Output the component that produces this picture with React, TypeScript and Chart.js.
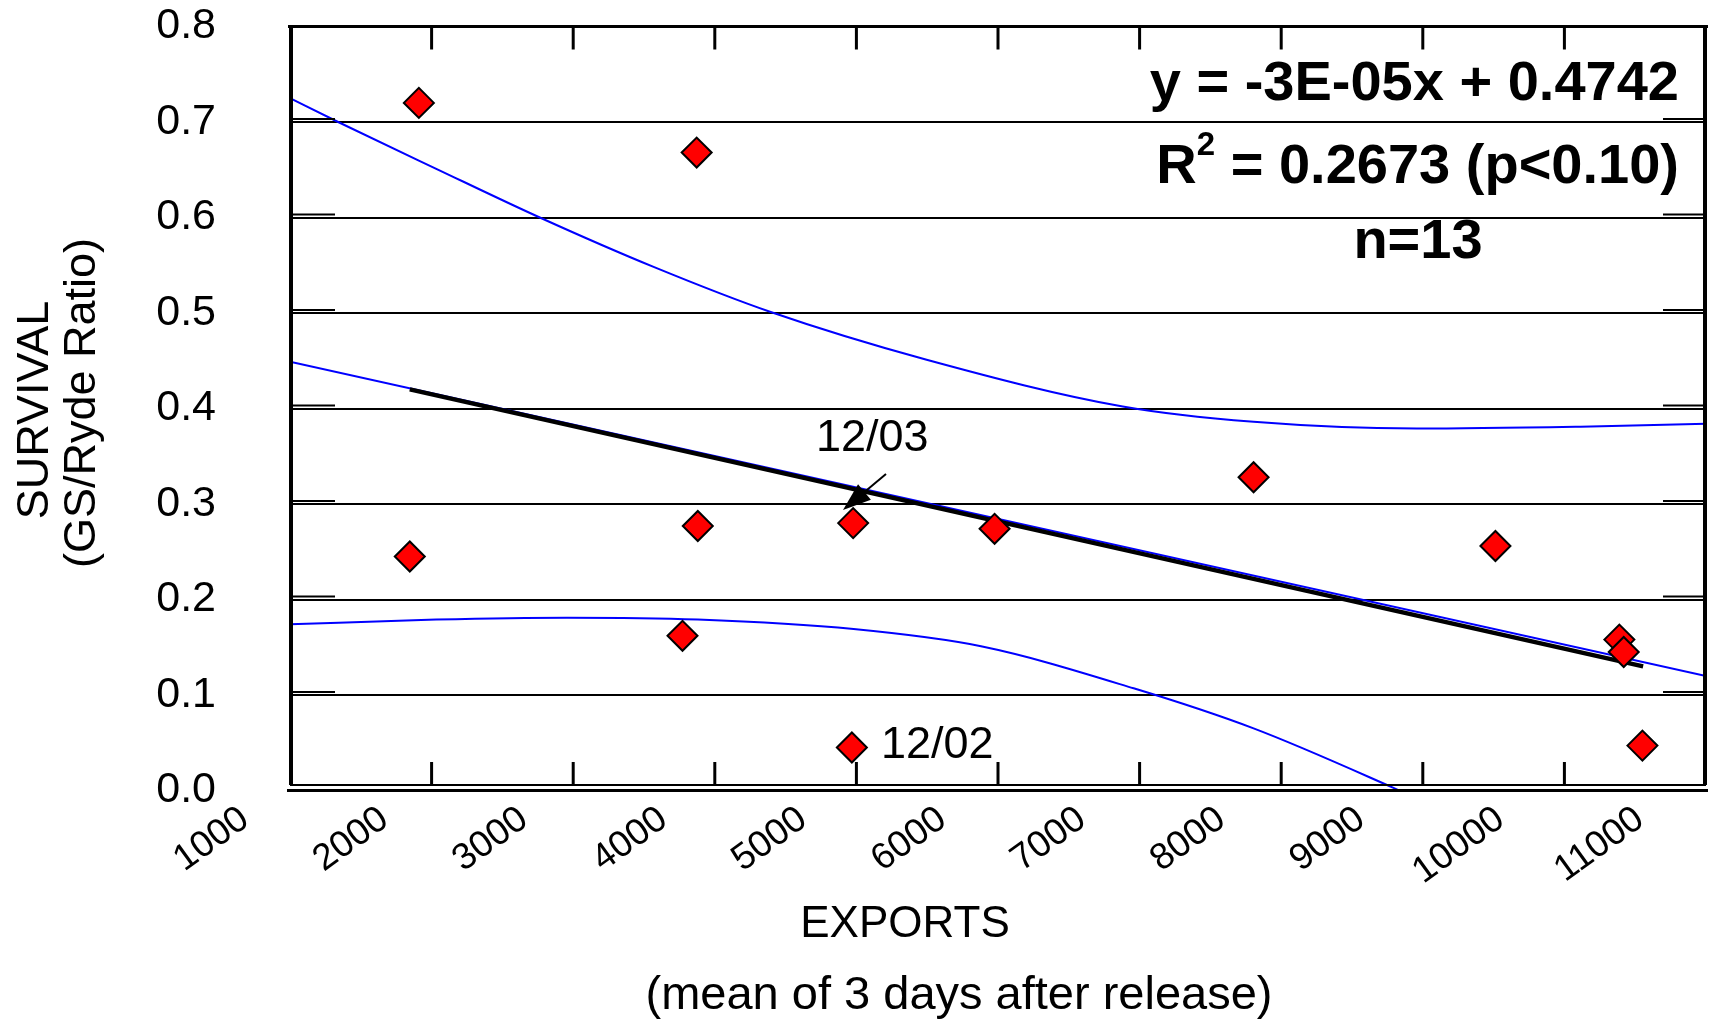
import React, { useEffect, useRef } from 'react';
import { Chart, registerables } from 'chart.js';

Chart.register(...registerables);

// ---- data ----
const xTickValues = [1000, 2000, 3000, 4000, 5000, 6000, 7000, 8000, 9000, 10000, 11000];
const xLabelValues = [1000, 2000, 3000, 4000, 5000, 6000, 7000, 8000, 9000, 10000, 11000];
const yTickValues = [0, 0.1, 0.2, 0.3, 0.4, 0.5, 0.6, 0.7, 0.8];

const pointX = [1910, 3872, 1846, 3880, 3772, 4977, 4968, 5976, 7805, 9513, 10388, 10419, 10551];
const pointY = [0.720, 0.668, 0.245, 0.277, 0.162, 0.280, 0.045, 0.274, 0.328, 0.256, 0.158, 0.145, 0.047];

const upperX = [1000, 1340, 2033, 2764, 3572, 4395, 5496, 6881, 7805, 8959, 10113, 11000];
const upperY = [0.725, 0.700, 0.651, 0.600, 0.548, 0.501, 0.451, 0.402, 0.386, 0.379, 0.381, 0.384];

const lowerX = [1000, 2033, 2956, 3880, 4980, 5880, 6958, 7805, 8789, 9100];
const lowerY = [0.174, 0.179, 0.181, 0.179, 0.169, 0.151, 0.107, 0.065, 0.003, -0.018];

const fitX = [1000, 11000];
const fitY = [0.449, 0.120];

const trendX = [1846, 10556];
const trendY = [0.420, 0.130];

// the printed label axis is slightly offset/compressed relative to the tick marks
const labelAxisMin = 1323;
const labelAxisMax = 11473;

const equationText = 'y = -3E-05x + 0.4742';
const r2Label = 'R';
const r2Sup = '2';
const r2Text = ' = 0.2673 (p<0.10)';
const nText = 'n=13';
const yTitleLines = ['SURVIVAL', '(GS/Ryde Ratio)'];
const xTitleLines = ['EXPORTS', '(mean of 3 days after release)'];
const note1 = '12/03';
const note2 = '12/02';

const FONT = '"Liberation Sans", Arial, sans-serif';

const zip = (xs: number[], ys: number[]) => xs.map((x, i) => ({ x, y: ys[i] }));

const noPad = (s: any) => {
  s.paddingLeft = 0;
  s.paddingRight = 0;
  s.paddingTop = 0;
  s.paddingBottom = 0;
};

const decorPlugin = {
  id: 'decor',
  afterDraw(chart: any) {
    const { ctx, chartArea: a, scales } = chart;
    const xs = scales.x;
    const ys = scales.y;
    const line = (x1: number, y1: number, x2: number, y2: number) => {
      ctx.beginPath();
      ctx.moveTo(x1, y1);
      ctx.lineTo(x2, y2);
      ctx.stroke();
    };
    ctx.save();
    ctx.strokeStyle = '#000';
    ctx.fillStyle = '#000';
    ctx.lineCap = 'butt';

    // tick marks (inside, top & bottom)
    ctx.lineWidth = 3;
    const innerBottom = a.bottom - 5.5;
    for (const v of xTickValues) {
      const px = xs.getPixelForValue(v);
      if (px <= a.left + 4 || px >= a.right - 4) continue;
      line(px, a.top, px, a.top + 23);
      line(px, innerBottom, px, innerBottom - 23);
    }
    // short inner y ticks at both sides
    ctx.lineWidth = 2;
    for (const v of yTickValues) {
      if (v <= 0 || v >= 0.8) continue;
      const py = ys.getPixelForValue(v) - 3;
      line(a.left, py, a.left + 45, py);
      line(a.right - 43, py, a.right, py);
    }

    // frame
    ctx.lineWidth = 3;
    line(a.left - 2, a.top, a.right + 2, a.top);
    ctx.lineWidth = 4;
    line(a.left + 1, a.top, a.left + 1, innerBottom);
    line(a.right - 1, a.top, a.right - 1, innerBottom);
    ctx.lineWidth = 2;
    line(a.left, innerBottom, a.right, innerBottom);
    ctx.lineWidth = 3;
    line(a.left - 3, a.bottom, a.right + 2, a.bottom);

    // arrow for 12/03
    ctx.lineWidth = 2;
    const ax1 = 886, ay1 = 474, ax2 = 843, ay2 = 510;
    const ang = Math.atan2(ay2 - ay1, ax2 - ax1);
    const hl = 28, hw = 10;
    const bx = ax2 - Math.cos(ang) * hl, by = ay2 - Math.sin(ang) * hl;
    line(ax1, ay1, bx, by);
    ctx.beginPath();
    ctx.moveTo(ax2, ay2);
    ctx.lineTo(bx + Math.sin(ang) * hw, by - Math.cos(ang) * hw);
    ctx.lineTo(bx - Math.sin(ang) * hw, by + Math.cos(ang) * hw);
    ctx.closePath();
    ctx.fill();

    // annotation texts
    ctx.font = `45px ${FONT}`;
    ctx.textAlign = 'left';
    ctx.textBaseline = 'alphabetic';
    ctx.fillText(note1, 816, 451);
    ctx.fillText(note2, 881, 758);

    // equation block
    ctx.font = `bold 56px ${FONT}`;
    ctx.textAlign = 'right';
    ctx.fillText(equationText, 1679, 100);
    const wMain = ctx.measureText(r2Text).width;
    const wR = ctx.measureText(r2Label).width;
    ctx.font = `bold 33px ${FONT}`;
    const wSup = ctx.measureText(r2Sup).width;
    const start = 1679 - wMain - wSup - wR;
    ctx.textAlign = 'left';
    ctx.font = `bold 56px ${FONT}`;
    ctx.fillText(r2Label, start, 183);
    ctx.fillText(r2Text, start + wR + wSup, 183);
    ctx.font = `bold 33px ${FONT}`;
    ctx.fillText(r2Sup, start + wR, 155);
    ctx.font = `bold 56px ${FONT}`;
    ctx.textAlign = 'center';
    ctx.fillText(nText, 1418, 258);

    // axis titles
    ctx.textAlign = 'center';
    ctx.font = `44px ${FONT}`;
    ctx.fillText(xTitleLines[0], 905, 937);
    ctx.font = `47px ${FONT}`;
    ctx.fillText(xTitleLines[1], 959, 1009);

    ctx.font = `45px ${FONT}`;
    ctx.save();
    ctx.translate(48, 410);
    ctx.rotate(-Math.PI / 2);
    ctx.fillText(yTitleLines[0], 0, 0);
    ctx.restore();
    ctx.save();
    ctx.translate(95, 403);
    ctx.rotate(-Math.PI / 2);
    ctx.fillText(yTitleLines[1], 0, 0);
    ctx.restore();

    ctx.restore();
  },
};

export default function App() {
  const ref = useRef<HTMLCanvasElement | null>(null);
  useEffect(() => {
    if (!ref.current) return;
    const chart = new Chart(ref.current, {
      type: 'scatter',
      data: {
        datasets: [
          {
            label: 'points',
            data: zip(pointX, pointY),
            pointStyle: 'rectRot',
            pointRadius: 15,
            pointBackgroundColor: '#FF0000',
            pointBorderColor: '#000000',
            pointBorderWidth: 2,
            showLine: false,
            order: 0,
          },
          {
            label: 'trend',
            data: zip(trendX, trendY),
            showLine: true,
            borderColor: '#000000',
            borderWidth: 4.5,
            pointRadius: 0,
            order: 1,
          },
          {
            label: 'fit',
            data: zip(fitX, fitY),
            showLine: true,
            borderColor: '#0000FF',
            borderWidth: 2,
            pointRadius: 0,
            order: 2,
          },
          {
            label: 'upper',
            data: zip(upperX, upperY),
            showLine: true,
            borderColor: '#0000FF',
            borderWidth: 2,
            pointRadius: 0,
            cubicInterpolationMode: 'monotone',
            order: 3,
          },
          {
            label: 'lower',
            data: zip(lowerX, lowerY),
            showLine: true,
            borderColor: '#0000FF',
            borderWidth: 2,
            pointRadius: 0,
            cubicInterpolationMode: 'monotone',
            order: 3,
          },
        ],
      },
      options: {
        responsive: false,
        animation: false,
        events: [],
        layout: { autoPadding: false, padding: { top: 26.5, right: 5, left: 0, bottom: 0 } },
        plugins: { legend: { display: false }, tooltip: { enabled: false }, title: { display: false } },
        scales: {
          x: {
            type: 'linear',
            display: false,
            min: 1000,
            max: 11000,
          },
          xLabels: {
            type: 'linear',
            position: 'bottom',
            min: labelAxisMin,
            max: labelAxisMax,
            afterFit: (s: any) => { s.height = 1021 - 790.5; noPad(s); },
            afterBuildTicks: (s: any) => { s.ticks = xLabelValues.map((v) => ({ value: v })); },
            grid: { display: false, drawTicks: false },
            border: { display: false },
            ticks: {
              color: '#000',
              font: { family: FONT, size: 37 },
              minRotation: 36,
              maxRotation: 36,
              autoSkip: false,
              padding: 7,
              callback: (v: any) => String(v),
            },
          },
          y: {
            type: 'linear',
            min: 0,
            max: 0.8,
            afterFit: (s: any) => { s.width = 290; noPad(s); },
            afterBuildTicks: (s: any) => { s.ticks = yTickValues.map((v) => ({ value: v })); },
            grid: { color: '#000', lineWidth: 2, drawTicks: false },
            border: { display: false },
            ticks: {
              color: '#000',
              font: { family: FONT, size: 43 },
              padding: 74,
              callback: (v: any) => Number(v).toFixed(1),
            },
          },
        },
      },
      plugins: [decorPlugin],
    } as any);
    return () => chart.destroy();
  }, []);
  return (
    <canvas
      ref={ref}
      width={1711}
      height={1021}
      style={{ position: 'absolute', left: 0, top: 0, width: 1711, height: 1021, display: 'block' }}
    />
  );
}
